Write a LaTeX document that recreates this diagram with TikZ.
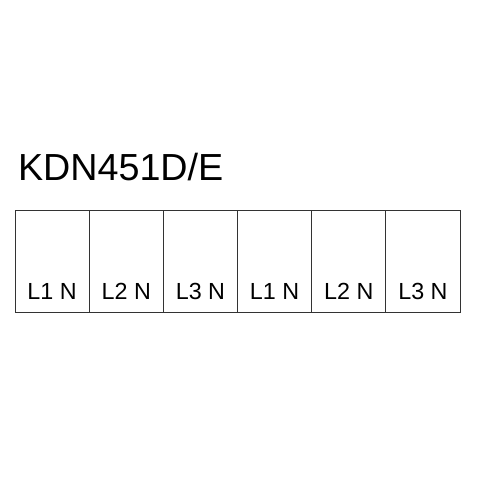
\documentclass[tikz,border=0pt]{standalone}
\usepackage{fontspec}
\setmainfont{Liberation Sans}
\usetikzlibrary{positioning}

\tikzset{
  slot/.style={draw=black!80, line width=1pt, minimum width=74.17pt, minimum height=102.7pt, inner sep=0pt, outer sep=0pt, anchor=north west},
  lbl/.style={inner sep=0pt, anchor=base, font=\fontsize{23.3}{25}\selectfont},
  ttl/.style={inner sep=0pt, anchor=base west, font=\fontsize{37.7}{40}\selectfont}
}

\begin{document}
\begin{tikzpicture}[x=1pt,y=-1pt]
	\useasboundingbox (0,0) rectangle (500,500);
	\node[ttl] (title) at (17.8, 180.7) {KDN451D/E};
	\foreach \i/\t in {1/L1 N,2/L2 N,3/L3 N,4/L1 N,5/L2 N,6/L3 N}{
		\node[slot] (box\i) at ({15+(\i-1)*74.17}, 210) {};
		\node[lbl] (lab\i) at ([yshift=13.4pt]box\i.south) {\t};
	}
\end{tikzpicture}
\end{document}
